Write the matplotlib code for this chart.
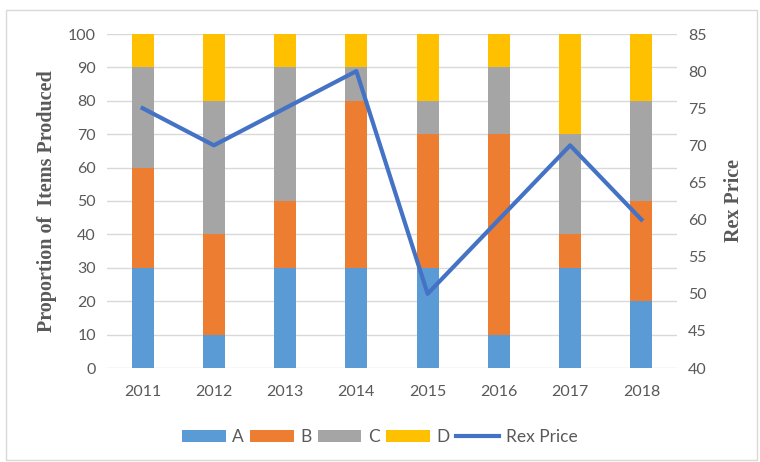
import matplotlib
matplotlib.use("Agg")
import matplotlib.pyplot as plt
from matplotlib.patches import Rectangle
import numpy as np

years = ["2011", "2012", "2013", "2014", "2015", "2016", "2017", "2018"]
series_a = [30, 10, 30, 30, 30, 10, 30, 20]
series_b = [30, 30, 20, 50, 40, 60, 10, 30]
series_c = [30, 40, 40, 10, 10, 20, 30, 30]
series_d = [10, 20, 10, 10, 20, 10, 30, 20]
rex_price = [75, 70, 75, 80, 50, 60, 70, 60]

colors = {"A": "#5B9BD5", "B": "#ED7D31", "C": "#A5A5A5", "D": "#FFC000"}
line_color = "#4472C4"
text_color = "#595959"
tick_font = "Lato"
label_font = "Liberation Serif"

fig = plt.figure(figsize=(7.6, 4.62), dpi=100)
fig.patches.append(Rectangle((6/760, 1-460/462), 751/760, 450/462, transform=fig.transFigure,
                             fill=False, edgecolor="#D9D9D9", linewidth=1.0))
ax = fig.add_axes([107/760, 1-368/462, 570/760, 334/462])
x = np.arange(len(years))
w = 0.31
bottom = np.zeros(len(years))
bars = []
for name, vals in [("A", series_a), ("B", series_b), ("C", series_c), ("D", series_d)]:
    b = ax.bar(x, vals, w, bottom=bottom, color=colors[name], label=name, zorder=2)
    bars.append(b)
    bottom += np.array(vals)

ax.set_xlim(-0.5, len(years) - 0.5)
ax.set_ylim(0, 100)
ax.set_yticks(range(0, 101, 10))
ax.set_xticks(x)
ax.set_xticklabels(years)
ax.grid(axis="y", color="#D9D9D9", linewidth=1.0, zorder=0)
ax.set_axisbelow(True)
for s in ax.spines.values():
    s.set_visible(False)
ax.tick_params(length=0, colors=text_color, labelsize=11.5, pad=8)
ax.tick_params(axis="x", pad=12)
for lab in ax.get_xticklabels() + ax.get_yticklabels():
    lab.set_fontfamily(tick_font)
ax.set_ylabel("Proportion of  Items Produced", fontfamily=label_font, fontweight="bold",
              fontsize=14.5, color=text_color, labelpad=8)

ax2 = ax.twinx()
line, = ax2.plot(x, rex_price, color=line_color, linewidth=3, label="Rex Price", zorder=3)
ax2.set_ylim(40, 85)
ax2.set_yticks(range(40, 86, 5))
for s in ax2.spines.values():
    s.set_visible(False)
ax2.tick_params(length=0, colors=text_color, labelsize=11.5, pad=8)
for lab in ax2.get_yticklabels():
    lab.set_fontfamily(tick_font)
ax2.set_ylabel("Rex Price", fontfamily=label_font, fontweight="bold",
               fontsize=14.5, color=text_color, labelpad=12)

handles = bars + [line]
labels = ["A", "B", "C", "D", "Rex Price"]
leg = fig.legend(handles, labels, loc="center", bbox_to_anchor=(0.5, 1-437/462), ncol=5,
                 frameon=False, handlelength=2.5, handleheight=0.7, columnspacing=0.35,
                 handletextpad=0.4, prop={"family": tick_font, "size": 12.5})
for t in leg.get_texts():
    t.set_color(text_color)

fig.savefig("out.png", dpi=100)
